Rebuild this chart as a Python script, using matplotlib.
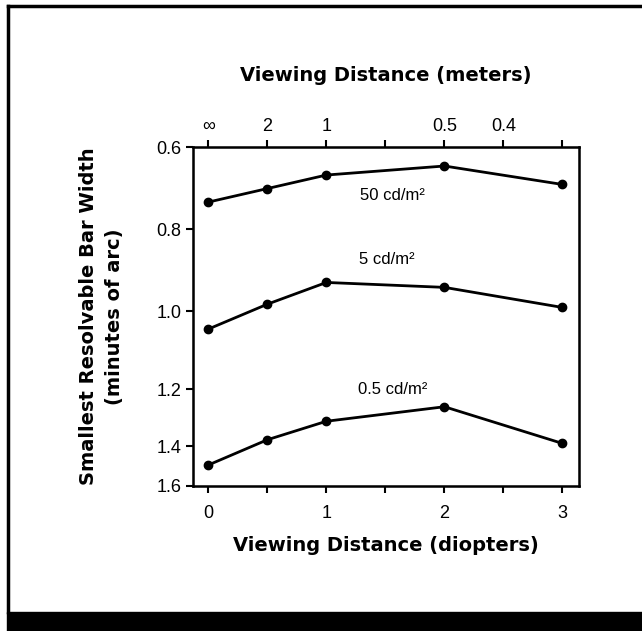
import numpy as np
import matplotlib.pyplot as plt
from matplotlib.patches import Rectangle
from matplotlib.lines import Line2D

# Viewing distance in diopters
diopters = [0, 0.5, 1, 2, 3]

# Smallest resolvable bar width (minutes of arc) per luminance
bw_50 = [0.734, 0.701, 0.668, 0.646, 0.691]
bw_5 = [1.046, 0.983, 0.930, 0.942, 0.991]
bw_05 = [1.495, 1.378, 1.313, 1.262, 1.391]
series_labels = ["50 cd/m²", "5 cd/m²", "0.5 cd/m²"]

# top axis: distance in meters
top_meters = [np.inf, 2, 1, 2 / 3, 0.5, 0.4, 1 / 3]
top_labels = ["∞", "2", "1", "", "0.5", "0.4", ""]

bottom_ticks = [0, 0.5, 1, 1.5, 2, 2.5, 3]
bottom_labels = ["0", "", "1", "", "2", "", "3"]
y_ticks = [0.6, 0.8, 1.0, 1.2, 1.4, 1.6]

# the printed y axis is not evenly spaced; map ticks to their drawn positions
y_knots = np.array([0.6, 0.8, 1.0, 1.2, 1.4, 1.6])
y_frac = np.array([0.0, 0.242, 0.484, 0.714, 0.882, 1.0])


def fwd(v):
    return np.interp(v, y_knots, y_frac)


def inv(f):
    return np.interp(f, y_frac, y_knots)


plt.rcParams["font.family"] = ["Liberation Sans", "DejaVu Sans"]
bold = dict(family=["DejaVu Sans"], weight="heavy", fontsize=14)

fig = plt.figure(figsize=(6.42, 6.31), dpi=100)
ax = fig.add_axes([0.3006, 0.2298, 0.6013, 0.537])
ax.set_yscale("function", functions=(fwd, inv))

for vals in (bw_50, bw_5, bw_05):
    ax.plot(diopters, vals, color="black", lw=2, marker="o", ms=6)

ax.set_xlim(-0.13, 3.14)
ax.set_ylim(1.6, 0.6)
ax.set_yticks(y_ticks)
ax.set_yticklabels(["0.6", "0.8", "1.0", "1.2", "1.4", "1.6"])
ax.yaxis.set_minor_locator(plt.NullLocator())
ax.set_xticks(bottom_ticks)
ax.set_xticklabels(bottom_labels)
ax.tick_params(direction="out", length=5, width=1.5, labelsize=13, colors="black")
ax.tick_params(axis="x", pad=9)
for s in ax.spines.values():
    s.set_linewidth(1.8)

ax.set_xlabel("Viewing Distance (diopters)", labelpad=10, **bold)
ax.set_ylabel("Smallest Resolvable Bar Width\n(minutes of arc)", labelpad=23,
              linespacing=1.45, **bold)

top = ax.twiny()
top.set_xlim(ax.get_xlim())
top.set_xticks(1 / np.array(top_meters))
top.set_xticklabels(top_labels)
top.tick_params(direction="out", length=5, width=1.5, labelsize=13)
top.set_xlabel("Viewing Distance (meters)", labelpad=27, **bold)

ax.text(1.56, 0.718, series_labels[0], ha="center", va="center", fontsize=12)
ax.text(1.51, 0.873, series_labels[1], ha="center", va="center", fontsize=12)
ax.text(1.56, 1.20, series_labels[2], ha="center", va="center", fontsize=12)

# outer frame of the printed figure
fig.add_artist(Line2D([8 / 642, 8 / 642], [19 / 631, 1 - 6 / 631],
                      color="black", lw=2.5, transform=fig.transFigure))
fig.add_artist(Line2D([8 / 642, 1], [1 - 6 / 631, 1 - 6 / 631],
                      color="black", lw=2.5, transform=fig.transFigure))
fig.add_artist(Rectangle((7 / 642, 0), 1, 19 / 631, color="black",
                         transform=fig.transFigure))

fig.savefig("out.png", dpi=100)
